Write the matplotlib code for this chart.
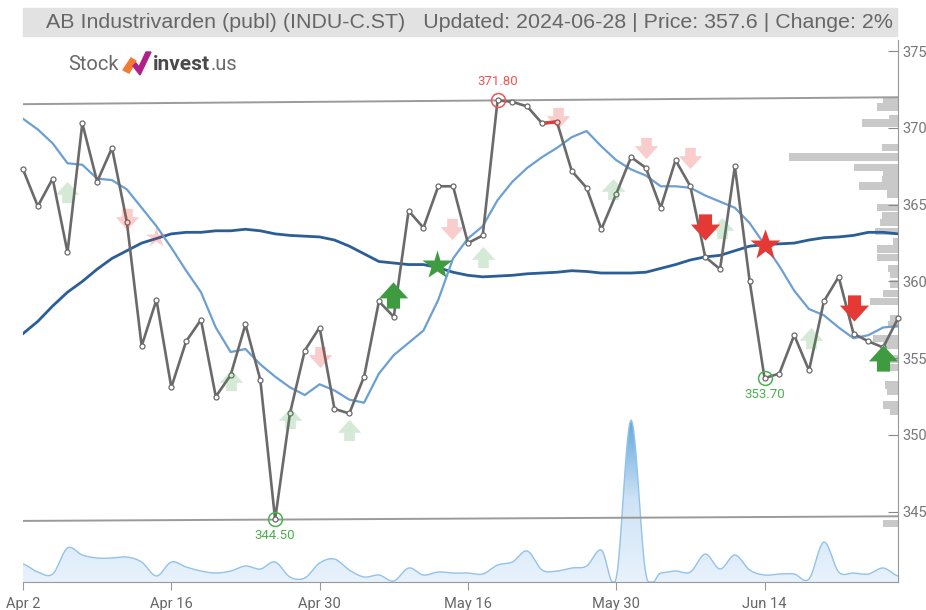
import numpy as np
import matplotlib
matplotlib.use("Agg")
import matplotlib.pyplot as plt
from matplotlib.path import Path
from matplotlib.patches import Rectangle, Polygon
from matplotlib.colors import LinearSegmentedColormap

plt.rcParams['font.family'] = ['Roboto', 'DejaVu Sans']

# ---------------- data ----------------
close = [367.3, 364.9, 366.7, 361.9, 370.3, 366.5, 368.7, 363.9, 355.8, 358.8,
         353.1, 356.1, 357.5, 352.5, 353.9, 357.2, 353.6, 344.5, 351.4, 355.5,
         357.0, 351.7, 351.4, 353.8, 358.7, 357.7, 364.6, 363.5, 366.2, 366.2,
         362.5, 363.0, 371.8, 371.7, 371.4, 370.3, 370.4, 367.2, 366.1, 363.4,
         365.7, 368.1, 367.4, 364.8, 367.9, 366.2, 361.6, 360.8, 367.5, 360.0,
         353.7, 354.0, 356.5, 354.2, 358.7, 360.3, 356.6, 356.1, 355.7, 357.6]

ma_short = [370.6, 369.9, 369.0, 367.7, 367.6, 366.7, 366.6, 366.0, 364.8, 363.6,
            362.2, 360.7, 359.3, 357.0, 355.4, 355.6, 354.6, 353.8, 353.1, 352.6,
            353.3, 352.9, 352.3, 352.1, 354.0, 355.2, 356.0, 356.8, 358.8, 361.5,
            362.8, 363.6, 365.3, 366.5, 367.4, 368.1, 368.7, 369.4, 369.8, 368.8,
            367.9, 367.3, 366.9, 366.2, 366.2, 366.1, 365.6, 365.2, 364.8, 363.8,
            362.4, 361.0, 359.4, 358.2, 357.8, 357.0, 356.3, 356.5, 357.0, 357.1]

ma_long = [356.6, 357.4, 358.4, 359.3, 360.0, 360.8, 361.5, 362.0, 362.5, 362.8,
           363.1, 363.2, 363.2, 363.3, 363.3, 363.4, 363.3, 363.1, 363.0, 362.95,
           362.9, 362.7, 362.3, 361.8, 361.3, 361.2, 361.1, 361.1, 360.9, 360.6,
           360.4, 360.3, 360.35, 360.4, 360.5, 360.55, 360.6, 360.7, 360.65, 360.55,
           360.55, 360.55, 360.6, 360.85, 361.1, 361.4, 361.6, 361.7, 362.0, 362.3,
           362.4, 362.45, 362.5, 362.7, 362.85, 362.9, 363.0, 363.2, 363.2, 363.1]

volume = [18, 10, 8, 34, 27, 24, 24, 25, 20, 6,
          20, 15, 11, 9, 11, 16, 13, 20, 5, 4,
          19, 23, 12, 5, 7, 1, 14, 7, 10, 9,
          9, 8, 17, 20, 31, 12, 11, 14, 16, 32,
          4, 162, 8, 9, 11, 10, 28, 13, 27, 12,
          7, 8, 8, 3, 40, 10, 9, 8, 14, 6]

tick_idx = [0, 10, 20, 30, 40, 50]
tick_labels = ["Apr 2", "Apr 16", "Apr 30", "May 16", "May 30", "Jun 14"]
price_ticks = [345, 350, 355, 360, 365, 370, 375]

resist = [371.55, 372.0]
support = [344.4, 344.7]

profile_price = [371.79, 371.37, 370.62, 370.33, 368.73, 368.11, 367.43, 367.0, 366.61,
                 366.22, 365.7, 364.82, 364.3, 363.84, 363.26, 362.6, 362.12, 361.56,
                 360.85, 360.46, 359.84, 359.22, 358.7, 357.59, 357.2, 356.29, 355.86,
                 354.95, 354.4, 353.26, 352.83, 351.95, 351.53, 344.23]
profile_vol = [15, 21, 9, 36, 16, 109, 44, 15, 16, 39, 11, 21, 16, 18, 23, 5, 21, 21,
               10, 8, 8, 15, 28, 8, 10, 25, 15, 11, 13, 13, 11, 15, 8, 15]

# signals: (index, price)
up_faded_i = [3, 14, 18, 22, 31, 39.8, 47.1, 53.1]
up_faded_p = [365.8, 353.6, 351.1, 350.3, 361.6, 366.0, 363.5, 356.3]
down_faded_i = [7, 20, 28.9, 36.1, 42, 45]
down_faded_p = [364.1, 355.1, 363.4, 370.65, 368.7, 368.05]
up_solid_i = [24.95, 58]
up_solid_p = [359.1, 355.0]
down_solid_i = [46, 56]
down_solid_p = [363.55, 358.3]
star_green_i, star_green_p = [27.9], [361.1]
star_red_i, star_red_p = [50], [362.4]
star_faded_i, star_faded_p = [9.0], [362.9]

hi_idx, hi_val = 32, 371.80
lo_idx, lo_val = 17, 344.50
lo2_idx, lo2_val = 50, 353.70

title = "AB Industrivarden (publ) (INDU-C.ST)   Updated: 2024-06-28 | Price: 357.6 | Change: 2%"

# ---------------- figure ----------------
W, H = 926, 610
fig = plt.figure(figsize=(W / 100, H / 100), dpi=100)
L, R, B, T = 23, 898, 582, 40
ax = fig.add_axes([L / W, 1 - B / H, (R - L) / W, (B - T) / H])
n = len(close)
x = np.arange(n)
ax.set_xlim(0, n - 1)
ax.set_ylim(340.42, 375.73)

px_per_idx = (R - L) / (n - 1)

# volume axes
axv = ax.twinx()
axv.set_ylim(0, B - T)
axv.set_xlim(0, n - 1)
axv.axis('off')

# smooth rendering (Catmull-Rom) of volume curve
v = np.array(volume, float)
pts = np.concatenate([[v[0]], v, [v[-1]]])
xs, ys = [], []
for k in range(n - 1):
    p0, p1, p2, p3 = pts[k], pts[k + 1], pts[k + 2], pts[k + 3]
    t = np.linspace(0, 1, 12, endpoint=False)
    yy = 0.5 * ((2 * p1) + (-p0 + p2) * t + (2 * p0 - 5 * p1 + 4 * p2 - p3) * t ** 2
                + (-p0 + 3 * p1 - 3 * p2 + p3) * t ** 3)
    xs.extend(k + t)
    ys.extend(yy)
xs.append(n - 1)
ys.append(v[-1])
xs = np.array(xs)
ys = np.clip(np.array(ys), 0, None)
poly = axv.fill_between(xs, 0, ys, color='none', lw=0)
grad = np.linspace(0, 1, 256).reshape(-1, 1)
cmap = LinearSegmentedColormap.from_list('v', ['#e8f2fc', '#cfe3f6', '#5fa6dc'])
im = axv.imshow(grad, extent=(0, n - 1, 0, 165), origin='lower', aspect='auto',
                cmap=cmap, zorder=1)
im.set_clip_path(poly.get_paths()[0], transform=axv.transData)
axv.plot(xs, ys, color='#93c2ea', lw=1.0, zorder=2)
axv.set_ylim(0, B - T)
axv.set_xlim(0, n - 1)

# keep main axes on top
ax.set_zorder(axv.get_zorder() + 1)
ax.patch.set_visible(False)

# volume profile
pw = np.array(profile_vol) / px_per_idx
ax.barh(profile_price, pw, left=(n - 1) - pw, height=0.5, color='#c9c9c9', zorder=1)

# support / resistance
ax.plot([0, n - 1], resist, color='#9a9a9a', lw=1.4, zorder=2)
ax.plot([0, n - 1], support, color='#9a9a9a', lw=1.4, zorder=2)

# moving averages
ax.plot(x, ma_long, color='#2b5e96', lw=2.0, zorder=3)
ax.plot(x, ma_short, color='#6c9fd3', lw=1.6, zorder=3)

# price
ax.plot(x, close, color='#6a6a6a', lw=1.9, zorder=4)
ax.plot(x[35:37], close[35:37], color='#e53935', lw=2.4, zorder=4.5)
ax.plot(x, close, ls='none', marker='o', ms=3.6, mfc='white', mec='#6a6a6a',
        mew=0.9, zorder=5, clip_on=False)

# arrow markers
up_verts = [(-0.5, -0.1), (0, 0.45), (0.5, -0.1), (0.225, -0.1), (0.225, -0.45),
            (-0.225, -0.45), (-0.225, -0.1), (-0.5, -0.1)]
up_path = Path(up_verts, closed=True)
down_path = Path([(a, -b) for a, b in up_verts], closed=True)

green, red = '#43a047', '#e53935'
ax.plot(up_faded_i, up_faded_p, ls='none', marker=up_path, ms=17, mfc=green, mec='none',
        alpha=0.22, zorder=6)
ax.plot(down_faded_i, down_faded_p, ls='none', marker=down_path, ms=17, mfc=red, mec='none',
        alpha=0.25, zorder=6)
ax.plot(star_faded_i, star_faded_p, ls='none', marker='*', ms=16, mfc=red, mec='none',
        alpha=0.25, zorder=6)
ax.plot(up_solid_i, up_solid_p, ls='none', marker=up_path, ms=21, mfc='#3f9b3f', mec='none',
        zorder=7)
ax.plot(down_solid_i, down_solid_p, ls='none', marker=down_path, ms=21, mfc=red, mec='none',
        zorder=7)
ax.plot(star_green_i, star_green_p, ls='none', marker='*', ms=22, mfc='#3f9b3f', mec='none',
        zorder=7)
ax.plot(star_red_i, star_red_p, ls='none', marker='*', ms=23, mfc=red, mec='none', zorder=7)

# high / low annotations
ax.plot([hi_idx], [hi_val], ls='none', marker='o', ms=10, mfc='none', mec='#f05454', mew=1.1, zorder=8)
ax.annotate(f"{hi_val:.2f}", (hi_idx, hi_val), xytext=(0, 9), textcoords='offset points',
            ha='center', va='bottom', color='#f05454', fontsize=9.5)
for idx, val in [(lo_idx, lo_val), (lo2_idx, lo2_val)]:
    ax.plot([idx], [val], ls='none', marker='o', ms=10, mfc='none', mec='#4caf50', mew=1.1, zorder=8)
    ax.annotate(f"{val:.2f}", (idx, val), xytext=(0, -7), textcoords='offset points',
                ha='center', va='top', color='#4caf50', fontsize=9.5)

# axes styling
for s in ['top', 'left']:
    ax.spines[s].set_visible(False)
ax.spines['right'].set_color('#999999')
ax.spines['bottom'].set_color('#999999')
ax.yaxis.tick_right()
ax.set_yticks(price_ticks)
ax.set_yticklabels([str(p) for p in price_ticks])
ax.tick_params(axis='y', direction='in', length=7, color='#888888', labelcolor='#777777',
               labelsize=10.5, pad=3)
ax.set_xticks(tick_idx)
ax.set_xticklabels(tick_labels)
ax.tick_params(axis='x', direction='out', length=6, color='#999999', labelcolor='#666666',
               labelsize=10.5, pad=5)

# title bar
fig.patches.append(Rectangle((L / W, 1 - 36 / H), (R - 1 - L) / W, 28 / H,
                             transform=fig.transFigure, color='#e2e2e2', zorder=0))
renderer = fig.canvas.get_renderer()
ttl = fig.text(893 / W, 1 - 22 / H, title, ha='right', va='center', color='#666666',
               fontsize=13.5, family=['Liberation Sans', 'DejaVu Sans'])
tw = ttl.get_window_extent(renderer).width
ttl.set_fontsize(13.5 * 848 / tw)

# logo
def put(xpx, s, **kw):
    t = fig.text(xpx / W, 1 - 65 / H, s, ha='left', va='center', **kw)
    return xpx + t.get_window_extent(renderer).width

put(68, "Stock", color='#6a6a6a', fontsize=14.5)
fig.patches.append(Polygon([(p[0] / W, 1 - p[1] / H) for p in [(123, 70), (131, 58), (136, 61), (129, 73)]],
                           closed=True, transform=fig.transFigure, color='#f47a30'))
fig.patches.append(Polygon([(p[0] / W, 1 - p[1] / H) for p in [(133, 66), (140, 75), (151, 52), (146, 52), (139, 67), (136, 63)]],
                           closed=True, transform=fig.transFigure, color='#b0208a'))
xe = put(153, "invest", color='#4a4a4a', fontsize=15, fontweight='bold')
put(xe, ".us", color='#6a6a6a', fontsize=14.5)

fig.savefig("out.png", dpi=100)
